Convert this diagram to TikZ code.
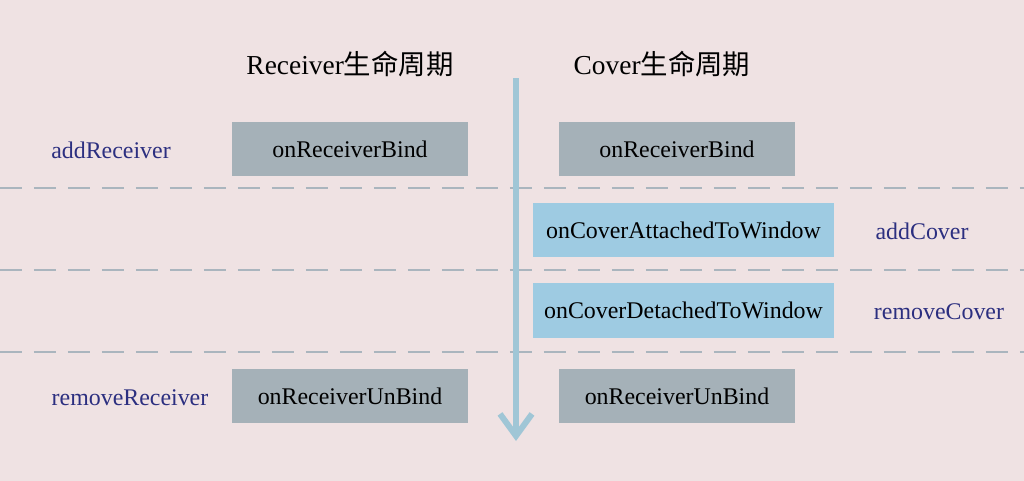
\documentclass[tikz,border=0pt]{standalone}
\usepackage{fontspec}
\setmainfont{Liberation Serif}
\newfontfamily\cjk{Noto Sans CJK SC}
\usetikzlibrary{arrows.meta}
\definecolor{bgpink}{RGB}{239,226,227}
\definecolor{boxgray}{RGB}{165,177,184}
\definecolor{boxblue}{RGB}{158,203,226}
\definecolor{callnavy}{RGB}{44,47,128}
\definecolor{flowblue}{RGB}{160,198,214}
\definecolor{sepgray}{RGB}{170,181,190}
\tikzset{
    lifebox/.style={fill=boxgray,minimum width=4.72cm,minimum height=1.08cm,inner sep=0pt,font=\fontsize{13.6}{16}\selectfont},
    hookbox/.style={lifebox,fill=boxblue,minimum width=6.02cm,minimum height=1.1cm},
    callname/.style={text=callnavy,font=\fontsize{13.6}{16}\selectfont},
    phasetitle/.style={font=\fontsize{15.6}{18}\selectfont},
    sepline/.style={draw=sepgray,line width=1.6pt,dash pattern=on 0.44cm off 0.24cm}
}
\begin{document}
\begin{tikzpicture}[x=0.02cm,y=-0.02cm]
        \useasboundingbox (0,0) rectangle (1024,480);
        \fill[bgpink] (-10,-10) rectangle (1034,490);
        % titles
        \node[phasetitle] (rtitle) at (350,64){Receiver{\cjk 生命周期}};
        \node[phasetitle] (ctitle) at (662,64){Cover{\cjk 生命周期}};
        % phase separators
        \draw[sepline] (0,188)--(1024,188);
        \draw[sepline] (0,270)--(1024,270);
        \draw[sepline] (0,352)--(1024,352);
        % time flows down
        \coordinate (tstart) at (516,78);
        \coordinate (tend) at (516,441);
        \draw[flowblue,line width=3.4pt,-{Straight Barb[length=4.4mm,width=6.4mm]}] (tstart)--(tend);
        % receiver side
        \node[lifebox] (rbind) at (350,149){onReceiverBind};
        \node[lifebox] (runbind) at (350,396){onReceiverUnBind};
        \node[callname] (addr) at (111,150){addReceiver};
        \node[callname] (remr) at (130,398){removeReceiver};
        % cover side
        \node[lifebox] (cbind) at (677,149){onReceiverBind};
        \node[hookbox] (cattach) at (683.5,230){onCoverAttachedToWindow};
        \node[hookbox] (cdetach) at (683.5,310.5){onCoverDetachedToWindow};
        \node[lifebox] (cunbind) at (677,396){onReceiverUnBind};
        \node[callname] (addc) at (922,231){addCover};
        \node[callname] (remc) at (939,312){removeCover};
    \end{tikzpicture}
\end{document}
